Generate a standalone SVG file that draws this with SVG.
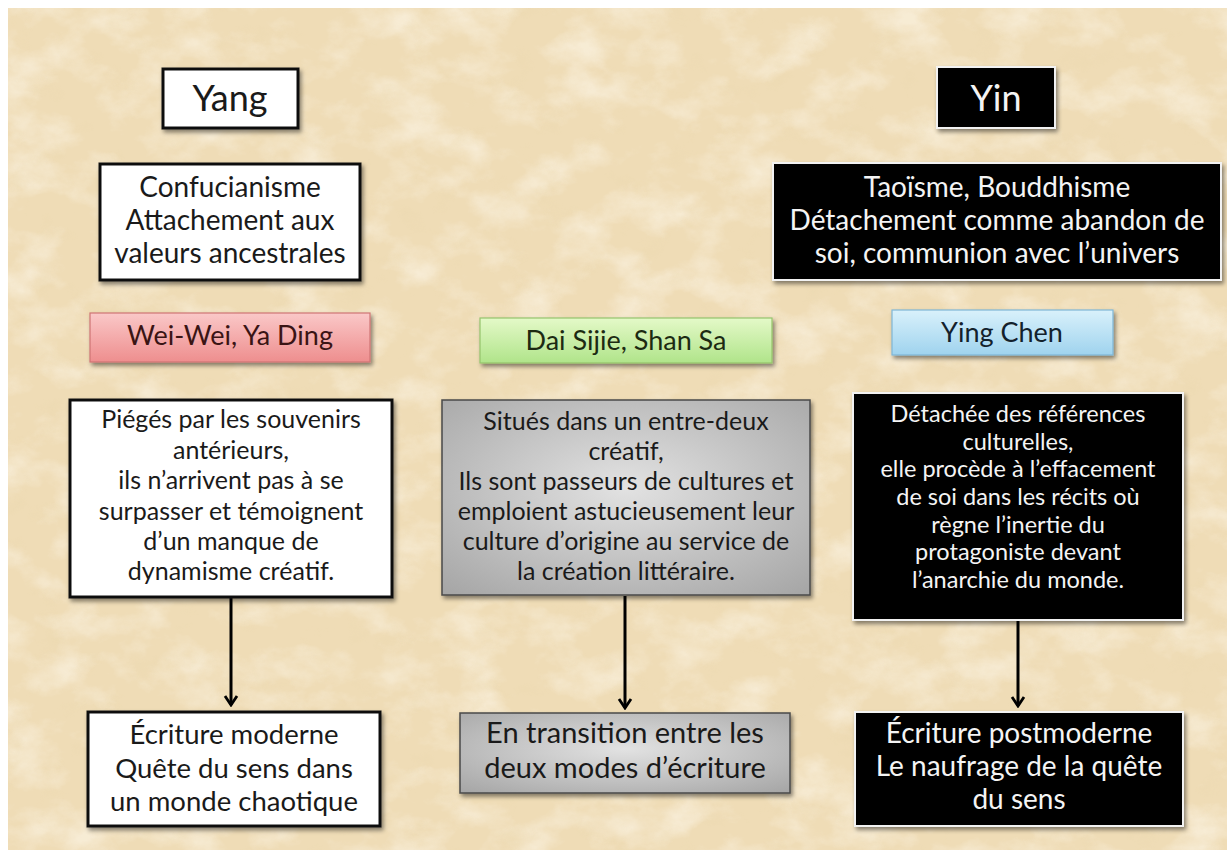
<svg xmlns="http://www.w3.org/2000/svg" width="1227" height="850" viewBox="0 0 1227 850">
<defs>
<style>
text{font-family:Lato,"Open Sans","Liberation Sans",sans-serif;text-anchor:middle}
.dk{fill:#1a1a1a}
.wt{fill:#f4f4f4}
.wbox{fill:#ffffff;stroke:#111;stroke-width:3}
.bbox{fill:#000;stroke:#f2f2f2;stroke-width:2}
.gbox{fill:url(#grey);stroke:#4a4a4a;stroke-width:1.5}
.conn{stroke:#000;stroke-width:3;fill:none}
</style>
<filter id="sh" x="-10%" y="-10%" width="125%" height="130%">
<feDropShadow dx="2" dy="3" stdDeviation="2" flood-color="#000" flood-opacity="0.45"/>
</filter>
<filter id="texL" x="0" y="0" width="100%" height="100%">
<feTurbulence type="fractalNoise" baseFrequency="0.018 0.026" numOctaves="5" seed="7"/>
<feColorMatrix type="matrix" values="0 0 0 0 1  0 0 0 0 0.97  0 0 0 0 0.9  2.4 0 0 0 -1.05"/>
</filter>
<filter id="texD" x="0" y="0" width="100%" height="100%">
<feTurbulence type="fractalNoise" baseFrequency="0.03 0.04" numOctaves="5" seed="19"/>
<feColorMatrix type="matrix" values="0 0 0 0 0.82  0 0 0 0 0.68  0 0 0 0 0.42  -2.4 0 0 0 1.0"/>
</filter>
<radialGradient id="grey" cx="50%" cy="45%" r="75%">
<stop offset="0" stop-color="#e2e2e2"/>
<stop offset="1" stop-color="#a4a4a4"/>
</radialGradient>
<linearGradient id="pink" x1="0" y1="0" x2="0" y2="1">
<stop offset="0" stop-color="#fac8c8"/>
<stop offset="1" stop-color="#ee8e8e"/>
</linearGradient>
<linearGradient id="green" x1="0" y1="0" x2="0" y2="1">
<stop offset="0" stop-color="#e4f9c8"/>
<stop offset="1" stop-color="#b0e48a"/>
</linearGradient>
<linearGradient id="blue" x1="0" y1="0" x2="0" y2="1">
<stop offset="0" stop-color="#d9f1fb"/>
<stop offset="1" stop-color="#9fd3ee"/>
</linearGradient>
<marker id="arr" viewBox="-12 -8 14 16" refX="0" refY="0" markerWidth="14" markerHeight="16" markerUnits="userSpaceOnUse" orient="auto">
<path d="M-9,-6 L0,0 L-9,6" fill="none" stroke="#000" stroke-width="2.8" stroke-linejoin="miter"/>
</marker>
</defs>

<rect x="0" y="0" width="1227" height="850" fill="#ffffff"/>
<rect x="8" y="8" width="1219" height="842" fill="#efdcb6"/>
<rect x="8" y="8" width="1219" height="842" filter="url(#texL)" opacity="0.5"/>
<rect x="8" y="8" width="1219" height="842" filter="url(#texD)" opacity="0.4"/>

<g id="connectors">
<line class="conn" x1="231" y1="598" x2="231" y2="705" marker-end="url(#arr)"/>
<line class="conn" x1="625" y1="596" x2="625" y2="708" marker-end="url(#arr)"/>
<line class="conn" x1="1018" y1="621" x2="1018" y2="706" marker-end="url(#arr)"/>
</g>

<g id="yang">
<rect class="wbox" x="163" y="69" width="135" height="59" filter="url(#sh)"/>
<text class="dk" x="230" y="111" font-size="36">Yang</text>
</g>

<g id="yin">
<rect class="bbox" x="937" y="67" width="118" height="61" filter="url(#sh)"/>
<text class="wt" x="996" y="111" font-size="36">Yin</text>
</g>

<g id="confucianisme">
<rect class="wbox" x="100" y="164" width="260" height="116" filter="url(#sh)"/>
<text class="dk" font-size="28"><tspan x="230" y="197">Confucianisme</tspan><tspan x="230" y="230">Attachement aux</tspan><tspan x="230" y="263">valeurs ancestrales</tspan></text>
</g>

<g id="taoisme">
<rect class="bbox" x="773" y="163" width="448" height="117" filter="url(#sh)"/>
<text class="wt" font-size="28"><tspan x="997" y="197">Taoïsme, Bouddhisme</tspan><tspan x="997" y="230">Détachement comme abandon de</tspan><tspan x="997" y="263">soi, communion avec l’univers</tspan></text>
</g>

<g id="weiwei">
<rect x="90" y="313" width="280" height="49" fill="url(#pink)" stroke="#cf7474" stroke-width="1.2" filter="url(#sh)"/>
<text x="230" y="345" font-size="27" fill="#3a1414">Wei-Wei, Ya Ding</text>
</g>

<g id="daisijie">
<rect x="480" y="318" width="292" height="45" fill="url(#green)" stroke="#94c46c" stroke-width="1.2" filter="url(#sh)"/>
<text x="626" y="350" font-size="27" fill="#1c2a12">Dai Sijie, Shan Sa</text>
</g>

<g id="yingchen">
<rect x="892" y="310" width="221" height="45" fill="url(#blue)" stroke="#7fb6d6" stroke-width="1.2" filter="url(#sh)"/>
<text x="1002" y="342" font-size="27" fill="#13212c">Ying Chen</text>
</g>

<g id="pieges">
<rect class="wbox" x="70" y="400" width="322" height="197" filter="url(#sh)"/>
<text class="dk" font-size="25"><tspan x="231" y="428">Piégés par les souvenirs</tspan><tspan x="231" y="459">antérieurs,</tspan><tspan x="231" y="489">ils n’arrivent pas à se</tspan><tspan x="231" y="520">surpasser et témoignent</tspan><tspan x="231" y="550">d’un manque de</tspan><tspan x="231" y="580">dynamisme créatif.</tspan></text>
</g>

<g id="situes">
<rect class="gbox" x="442" y="400" width="368" height="195" filter="url(#sh)"/>
<text class="dk" font-size="25"><tspan x="626" y="430">Situés dans un entre-deux</tspan><tspan x="626" y="460">créatif,</tspan><tspan x="626" y="490">Ils sont passeurs de cultures et</tspan><tspan x="626" y="520">emploient astucieusement leur</tspan><tspan x="626" y="550">culture d’origine au service de</tspan><tspan x="626" y="580">la création littéraire.</tspan></text>
</g>

<g id="detachee">
<rect class="bbox" x="853" y="393" width="330" height="227" filter="url(#sh)"/>
<text class="wt" font-size="23.5"><tspan x="1018" y="422">Détachée des références</tspan><tspan x="1018" y="450">culturelles,</tspan><tspan x="1018" y="477">elle procède à l’effacement</tspan><tspan x="1018" y="505">de soi dans les récits où</tspan><tspan x="1018" y="533">règne l’inertie du</tspan><tspan x="1018" y="560">protagoniste devant</tspan><tspan x="1018" y="588">l’anarchie du monde.</tspan></text>
</g>

<g id="moderne">
<rect class="wbox" x="88" y="712" width="292" height="114" filter="url(#sh)"/>
<text class="dk" font-size="27.5"><tspan x="234" y="744">Écriture moderne</tspan><tspan x="234" y="778">Quête du sens dans</tspan><tspan x="234" y="811">un monde chaotique</tspan></text>
</g>

<g id="transition">
<rect class="gbox" x="460" y="713" width="330" height="80" filter="url(#sh)"/>
<text class="dk" font-size="29"><tspan x="625" y="743">En transition entre les</tspan><tspan x="625" y="778">deux modes d’écriture</tspan></text>
</g>

<g id="postmoderne">
<rect class="bbox" x="855" y="712" width="328" height="114" filter="url(#sh)"/>
<text class="wt" font-size="28"><tspan x="1019" y="743">Écriture postmoderne</tspan><tspan x="1019" y="776">Le naufrage de la quête</tspan><tspan x="1019" y="809">du sens</tspan></text>
</g>
</svg>
